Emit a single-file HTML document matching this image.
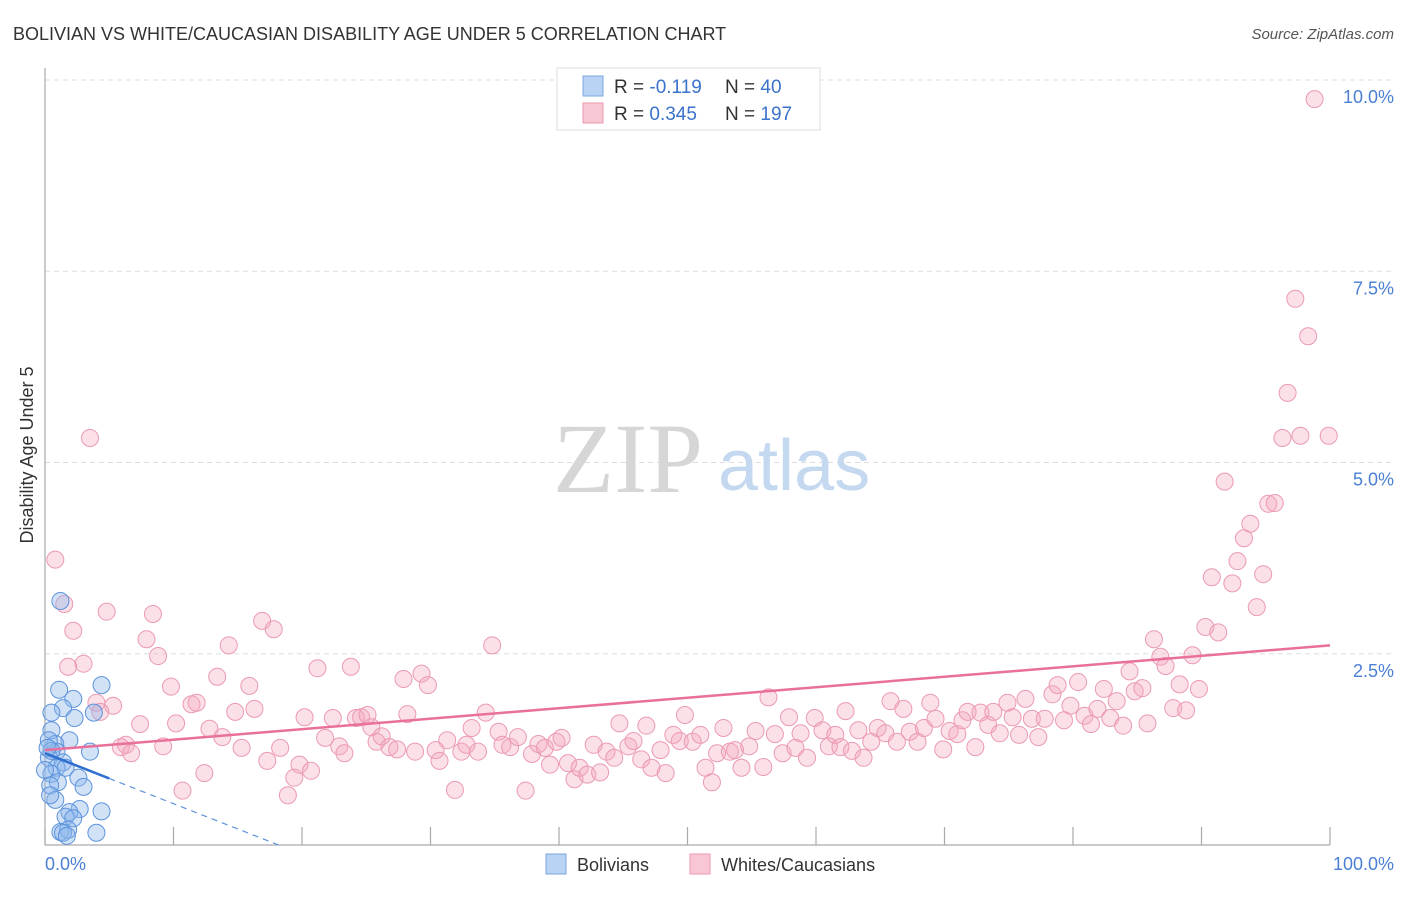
<!DOCTYPE html>
<html><head><meta charset="utf-8">
<style>
body{margin:0;background:#fff;font-family:"Liberation Sans",sans-serif;}
</style></head>
<body>
<svg id="chart" width="1406" height="892" viewBox="0 0 1406 892" xmlns="http://www.w3.org/2000/svg" font-family="Liberation Sans, sans-serif">
<text x="13" y="40" font-size="18" fill="#333">BOLIVIAN VS WHITE/CAUCASIAN DISABILITY AGE UNDER 5 CORRELATION CHART</text>
<text x="1394" y="39" font-size="15" fill="#555" font-style="italic" text-anchor="end">Source: ZipAtlas.com</text>
<g id="grid"></g>
<g>
<text x="553" y="492" font-size="100" style="font-family:'Liberation Serif',serif" fill="#d6d6d6">ZIP</text>
<text x="718" y="490" font-size="72" fill="#c4d8f0">atlas</text>
</g>
<line x1="45" y1="68" x2="45" y2="845" stroke="#aaa" stroke-width="1.2"/>
<line x1="45" y1="845" x2="1330" y2="845" stroke="#aaa" stroke-width="1.2"/>
<g id="xticks"></g>
<g id="pts"></g>
<g id="trends"></g>
<text transform="translate(33,455) rotate(-90)" font-size="18" fill="#333" text-anchor="middle">Disability Age Under 5</text>
<text x="45" y="870" font-size="18" fill="#4a7fd4">0.0%</text>
<text x="1394" y="870" font-size="18" fill="#4a7fd4" text-anchor="end">100.0%</text>
<g>
<rect x="557" y="68" width="263" height="62" fill="#fff" stroke="#ddd"/>
<rect x="583" y="76" width="20" height="20" fill="#b8d3f4" stroke="#7aa6e0"/>
<rect x="583" y="103" width="20" height="20" fill="#f9c6d4" stroke="#eb9ab2"/>
<text x="614" y="93" font-size="19" fill="#333">R = <tspan fill="#3a72cc">-0.119</tspan></text>
<text x="725" y="93" font-size="19" fill="#333">N = <tspan fill="#3a72cc"> 40</tspan></text>
<text x="614" y="120" font-size="19" fill="#333">R = <tspan fill="#3a72cc">0.345</tspan></text>
<text x="725" y="120" font-size="19" fill="#333">N = <tspan fill="#3a72cc">197</tspan></text>
</g>
<g>
<rect x="546" y="854" width="20" height="20" fill="#b8d3f4" stroke="#7aa6e0"/>
<text x="577" y="871" font-size="18" fill="#333">Bolivians</text>
<rect x="690" y="854" width="20" height="20" fill="#f9c6d4" stroke="#eb9ab2"/>
<text x="721" y="871" font-size="18" fill="#333">Whites/Caucasians</text>
</g>
</svg>
<script>
const yTicks=[2.5,5.0,7.5,10.0];
const yTickLabels=["2.5%","5.0%","7.5%","10.0%"];
const xTicks=[0,10,20,30,40,50,60,70,80,90,100];
const pinkX=[3.5,0.8,1.5,2.2,3.0,1.8,4.8,4.0,5.3,4.3,5.9,6.3,6.7,7.4,7.9,8.4,8.8,9.2,9.8,10.2,10.7,11.4,11.8,12.4,12.8,13.4,13.8,14.3,14.8,15.3,15.9,16.3,16.9,17.3,17.8,18.3,18.9,19.4,19.8,20.2,20.7,21.2,21.8,22.4,22.9,23.3,23.8,24.2,24.6,25.1,25.4,25.8,26.2,26.8,27.4,27.9,28.2,28.8,29.3,29.8,30.4,30.7,31.3,31.9,32.4,32.8,33.2,33.7,34.3,34.8,35.3,35.6,36.2,36.8,37.4,37.9,38.4,38.9,39.3,39.8,40.2,40.7,41.2,41.6,42.2,42.7,43.2,43.7,44.3,44.7,45.4,45.8,46.4,46.8,47.2,47.9,48.3,48.9,49.4,49.8,50.4,51.0,51.4,51.9,52.3,52.8,53.3,53.7,54.2,54.8,55.3,55.9,56.3,56.8,57.4,57.9,58.4,58.8,59.3,59.9,60.5,61.0,61.5,61.9,62.3,62.8,63.3,63.7,64.3,64.8,65.4,65.8,66.3,66.8,67.3,67.9,68.4,68.9,69.3,69.9,70.4,71.0,71.4,71.8,72.4,72.8,73.4,73.8,74.3,74.9,75.3,75.8,76.3,76.8,77.3,77.8,78.4,78.8,79.3,79.8,80.4,80.9,81.4,81.9,82.4,82.9,83.4,83.9,84.4,84.8,85.4,85.8,86.3,86.8,87.2,87.8,88.3,88.8,89.3,89.8,90.3,90.8,91.3,91.8,92.4,92.8,93.3,93.8,94.3,94.8,95.2,95.7,96.3,96.7,97.3,97.7,98.3,98.8,99.9];
const pinkY=[5.32,3.73,3.15,2.80,2.37,2.33,3.05,1.86,1.82,1.74,1.28,1.31,1.20,1.58,2.69,3.02,2.47,1.29,2.07,1.59,0.71,1.84,1.86,0.94,1.52,2.20,1.41,2.61,1.74,1.27,2.08,1.78,2.93,1.10,2.82,1.27,0.65,0.88,1.05,1.67,0.97,2.31,1.40,1.66,1.29,1.20,2.33,1.66,1.67,1.70,1.54,1.35,1.42,1.28,1.25,2.17,1.71,1.22,2.24,2.09,1.24,1.10,1.37,0.72,1.22,1.31,1.53,1.22,1.73,2.61,1.48,1.31,1.28,1.41,0.71,1.19,1.32,1.27,1.05,1.35,1.40,1.07,0.86,1.01,0.92,1.31,0.95,1.22,1.14,1.59,1.29,1.36,1.12,1.56,1.01,1.24,0.94,1.44,1.36,1.70,1.35,1.44,1.01,0.82,1.20,1.53,1.22,1.24,1.01,1.29,1.49,1.02,1.93,1.45,1.20,1.67,1.27,1.46,1.14,1.66,1.50,1.29,1.44,1.28,1.75,1.23,1.50,1.14,1.35,1.53,1.46,1.88,1.35,1.78,1.48,1.35,1.53,1.86,1.65,1.25,1.49,1.45,1.63,1.74,1.28,1.73,1.57,1.74,1.46,1.86,1.67,1.44,1.91,1.65,1.41,1.65,1.97,2.09,1.63,1.82,2.13,1.69,1.58,1.78,2.04,1.66,1.88,1.56,2.27,2.01,2.05,1.59,2.69,2.46,2.34,1.79,2.10,1.76,2.48,2.04,2.85,3.50,2.78,4.75,3.42,3.71,4.01,4.20,3.11,3.54,4.46,4.47,5.32,5.91,7.14,5.35,6.65,9.75,5.35];
const blueX=[1.2,4.4,1.1,2.2,1.4,0.5,2.3,3.8,0.5,1.9,0.8,0.9,3.5,0.3,1.4,0.9,0.5,1.6,2.6,1.0,3.0,0.4,4.4,2.7,1.9,1.6,2.2,1.2,1.8,1.4,4.0,0.3,0.5,0.8,1.7,0.0,0.4,0.2];
const blueY=[3.19,2.09,2.03,1.91,1.79,1.73,1.66,1.73,1.50,1.37,1.32,1.22,1.22,1.14,1.08,1.01,0.93,1.01,0.88,0.82,0.76,0.78,0.44,0.47,0.43,0.37,0.35,0.17,0.20,0.16,0.16,1.37,1.23,0.59,0.12,0.98,0.65,1.27];
const pinkTrend=[1.24,0.0137];
const blueTrend=[1.20,-0.066];
const blueSolidEnd=5;

const NS="http://www.w3.org/2000/svg";
const sx=v=>45+v*12.85;
const sy=v=>845-v*76.5;
function mk(tag,attrs,parent){const e=document.createElementNS(NS,tag);for(const k in attrs)e.setAttribute(k,attrs[k]);parent.appendChild(e);return e;}
const grid=document.getElementById('grid');
yTicks.forEach((t,i)=>{
  const l=mk('line',{x1:45,x2:1394,y1:sy(t),y2:sy(t),stroke:'#ddd','stroke-dasharray':'5,4'},grid);
  
  
  const tx=mk('text',{x:1394,y:sy(t)+23,'font-size':18,fill:'#4a7fd4','text-anchor':'end'},grid);
  tx.textContent=yTickLabels[i];
  
  
});
const xt=document.getElementById('xticks');
xTicks.forEach(t=>{
  const l=mk('line',{x1:sx(t),x2:sx(t),y1:827,y2:845,stroke:'#aaa','stroke-width':1.2},xt);
  
  
});
const pts=document.getElementById('pts');
pinkX.forEach((x,i)=>{
  const c=mk('circle',{cx:sx(x),cy:sy(pinkY[i]),r:8.5,fill:'rgba(244,165,190,0.35)',stroke:'#eb9ab2','stroke-width':1},pts);
  
  
});
blueX.forEach((x,i)=>{
  const c=mk('circle',{cx:sx(x),cy:sy(blueY[i]),r:8.5,fill:'rgba(140,182,236,0.4)',stroke:'#5d93dc','stroke-width':1},pts);
  
  
});
const tr=document.getElementById('trends');
const pl=mk('line',{x1:sx(0),y1:sy(pinkTrend[0]),x2:sx(100),y2:sy(pinkTrend[0]+pinkTrend[1]*100),stroke:'#e8709a','stroke-width':2.5},tr);


const bl=mk('line',{x1:sx(0),y1:sy(blueTrend[0]),x2:sx(blueSolidEnd),y2:sy(blueTrend[0]+blueTrend[1]*blueSolidEnd),stroke:'#2f6fd0','stroke-width':2.5},tr);


const zeroX=-blueTrend[0]/blueTrend[1];
const bd=mk('line',{x1:sx(blueSolidEnd),y1:sy(blueTrend[0]+blueTrend[1]*blueSolidEnd),x2:sx(zeroX),y2:sy(0),stroke:'#5d93dc','stroke-width':1.2,'stroke-dasharray':'6,5'},tr);


</script>
</body></html>
